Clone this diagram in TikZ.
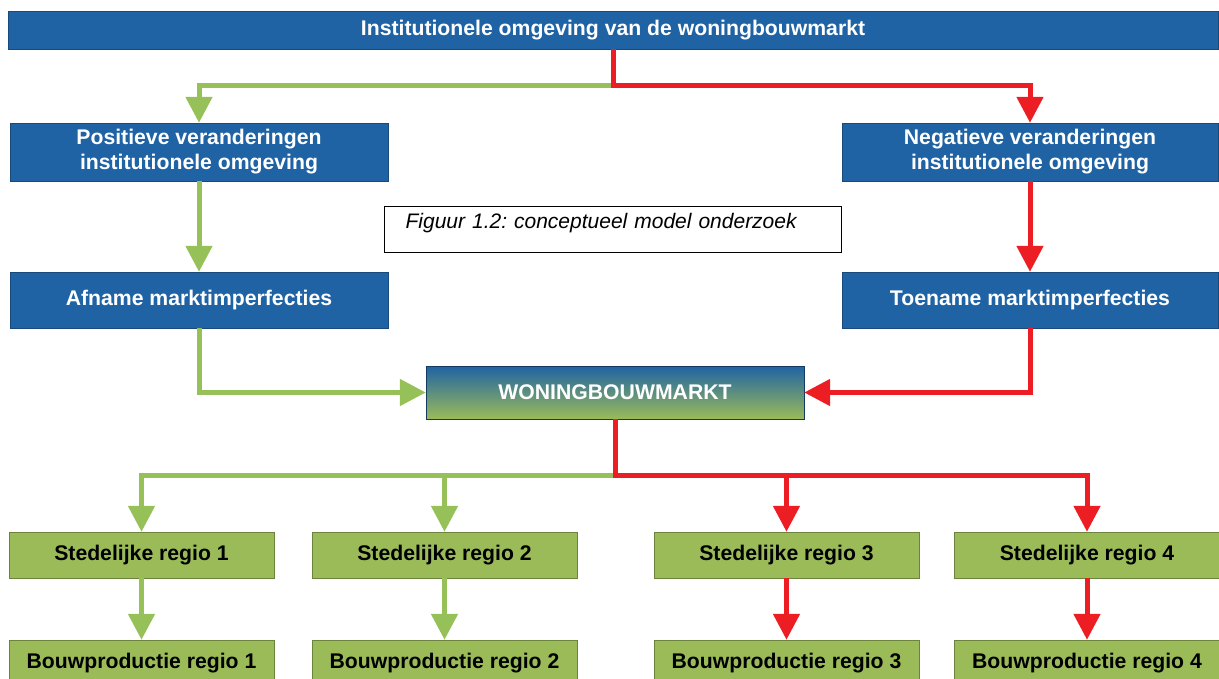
\documentclass[tikz,border=0pt]{standalone}
\usepackage{fontspec}
\setmainfont{Liberation Sans}
\usetikzlibrary{arrows.meta}
\frenchspacing

\definecolor{boxblue}{RGB}{31,99,164}
\definecolor{boxgreen}{RGB}{155,187,89}
\definecolor{arrgreen}{RGB}{150,192,88}
\definecolor{arrred}{RGB}{236,30,36}

\begin{document}
\begin{tikzpicture}[x=1pt,y=-1pt,
    bluebox/.style={rectangle,draw=boxblue!75!black,fill=boxblue,text=white,
        font=\bfseries\fontsize{21.2}{25}\selectfont,align=center,inner sep=0pt},
    marktbox/.style={rectangle,draw=boxblue!60!black,top color=boxblue,bottom color=boxgreen,
        text=white,font=\bfseries\fontsize{21.2}{25}\selectfont,inner sep=0pt},
    greenbox/.style={rectangle,draw=boxgreen!70!black,fill=boxgreen,text=black,
        font=\bfseries\fontsize{21.2}{25}\selectfont,minimum width=265pt,minimum height=46pt,inner sep=0pt},
    capbox/.style={rectangle,draw=black,line width=1.2pt,fill=white,
        font=\itshape\fontsize{21}{24}\selectfont,text width=415pt,align=left,
        inner xsep=21pt,inner ysep=6pt,text height=16pt,text depth=18pt},
    greenarrow/.style={draw=arrgreen,line width=5pt,-{Triangle[width=26pt,length=26pt]}},
    redarrow/.style={draw=arrred,line width=5pt,-{Triangle[width=26pt,length=26pt]}}]

\useasboundingbox (0,0) rectangle (1219,678);

\node[bluebox,minimum width=1210pt,minimum height=38pt] (inst) at (613,30) {Institutionele omgeving van de woningbouwmarkt};

\node[bluebox,minimum width=378pt,minimum height=58pt] (posv) at (199,152) {Positieve veranderingen\\institutionele omgeving};
\node[bluebox,minimum width=376pt,minimum height=58pt] (negv) at (1030,152) {Negatieve veranderingen\\institutionele omgeving};

\node[capbox,anchor=north west] (caption) at (384,206) {Figuur 1.2: conceptueel model onderzoek};

\node[bluebox,minimum width=378pt,minimum height=56pt] (afname) at (199,300) {Afname marktimperfecties};
\node[bluebox,minimum width=376pt,minimum height=56pt] (toename) at (1030,300) {Toename marktimperfecties};

\node[marktbox,minimum width=378pt,minimum height=53pt] (markt) at (615,392.5) {WONINGBOUWMARKT};

\node[greenbox] (sted1) at (141.5,555) {Stedelijke regio 1};
\node[greenbox] (sted2) at (444.5,555) {Stedelijke regio 2};
\node[greenbox] (sted3) at (786.5,555) {Stedelijke regio 3};
\node[greenbox] (sted4) at (1087,555) {Stedelijke regio 4};

\node[greenbox] (bouw1) at (141.5,663) {Bouwproductie regio 1};
\node[greenbox] (bouw2) at (444.5,663) {Bouwproductie regio 2};
\node[greenbox] (bouw3) at (786.5,663) {Bouwproductie regio 3};
\node[greenbox] (bouw4) at (1087,663) {Bouwproductie regio 4};

\coordinate (split1) at (613,85);
\coordinate (split2) at (615,475);

% bovenste splitsing
\draw[greenarrow] (split1) -| (posv.north);
\draw[redarrow] (inst.south) -- (split1) -| (negv.north);

\draw[greenarrow] (posv.south) -- (afname.north);
\draw[redarrow] (negv.south) -- (toename.north);

\draw[greenarrow] (afname.south) |- (markt.west);
\draw[redarrow] (toename.south) |- (markt.east);

% onderste splitsing
\draw[greenarrow] (split2) -| (sted1.north);
\draw[greenarrow] (split2) -| (sted2.north);
\draw[redarrow] (markt.south) -- (split2) -| (sted3.north);
\draw[redarrow] (split2) -| (sted4.north);

\draw[greenarrow] (sted1.south) -- (bouw1.north);
\draw[greenarrow] (sted2.south) -- (bouw2.north);
\draw[redarrow] (sted3.south) -- (bouw3.north);
\draw[redarrow] (sted4.south) -- (bouw4.north);
\end{tikzpicture}
\end{document}
